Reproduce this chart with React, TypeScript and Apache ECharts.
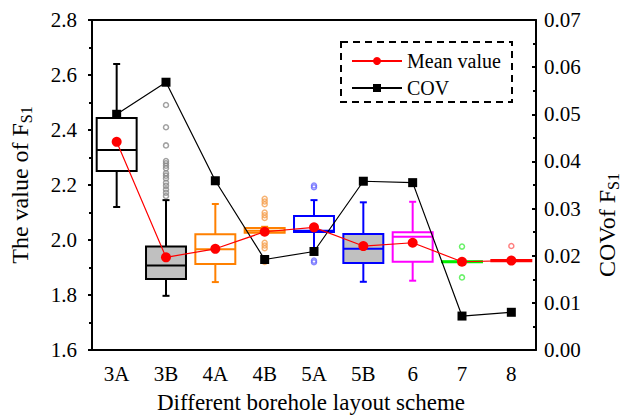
import React, { useEffect, useRef } from "react";
import * as echarts from "echarts";

const categories = ["3A", "3B", "4A", "4B", "5A", "5B", "6", "7", "8"];
// [min, Q1, median, Q3, max]
const boxStats = [
  [2.12, 2.251, 2.327, 2.444, 2.64],
  [1.797, 1.858, 1.907, 1.976, 2.145],
  [1.847, 1.913, 1.966, 2.021, 2.131],
  [2.022, 2.026, 2.034, 2.044, 2.048],
  [1.962, 2.029, 2.034, 2.087, 2.145],
  [1.848, 1.916, 1.968, 2.022, 2.137],
  [1.852, 1.921, 2.012, 2.028, 2.139],
  [1.918, 1.919, 1.921, 1.923, 1.924],
  [1.922, 1.923, 1.925, 1.927, 1.928],
];
const meanValues = [2.357, 1.937, 1.968, 2.03, 2.046, 1.978, 1.99, 1.921, 1.925];
const covValues = [0.05, 0.0568, 0.0359, 0.0192, 0.0209, 0.0358, 0.0355, 0.0072, 0.008];

const outliers3B = [2.491, 2.41, 2.344, 2.287, 2.279, 2.27, 2.261, 2.243, 2.234, 2.224, 2.208, 2.197, 2.184, 2.172, 2.16];
const outliers4B = [2.15, 2.14, 2.13, 2.1, 2.09, 2.08, 1.99, 1.98, 1.97, 1.92];
const outliers5A = [2.198, 2.192, 1.925, 1.919];
const outliers7 = [1.976, 1.864];
const outliers8 = [1.978];

const leftTicks = { min: 1.6, max: 2.8, interval: 0.2 };
const rightTicks = { min: 0, max: 0.07, interval: 0.01 };

const boxBorder = ["#000000", "#000000", "#ff8000", "#ff8000", "#0000ff", "#0000ff", "#ff00ff", "#00ee00", "#ff0000"];
const boxFill = ["#ffffff", "#c0c0c0", "#ffffff", "#ffffff", "#ffffff", "#c0c0c0", "#ffffff", "#ffffff", "#ffffff"];

const FONT = "Liberation Serif";

export default function App() {
  const ref = useRef<HTMLDivElement>(null);
  useEffect(() => {
    const chart = echarts.init(ref.current!, null, { renderer: "svg" });
    const boxData = boxStats.map((s, i) => [i, ...s]);
    const outlierSeries = [
      { idx: 1, vals: outliers3B, color: "#8a8a8a" },
      { idx: 3, vals: outliers4B, color: "#f5a050" },
      { idx: 4, vals: outliers5A, color: "#6a6aff" },
      { idx: 7, vals: outliers7, color: "#44ee44" },
      { idx: 8, vals: outliers8, color: "#ff6060" },
    ].map((o) => ({
      type: "scatter",
      xAxisIndex: 0,
      yAxisIndex: 0,
      z: 3,
      symbol: "circle",
      symbolSize: 5,
      itemStyle: { color: "transparent", borderColor: o.color, borderWidth: 1.5 },
      data: o.vals.map((v) => [o.idx, v]),
    }));

    const axisLineStyle = { color: "#000", width: 2 };
    const richSub = { s: { fontSize: 16, fontFamily: FONT, color: "#000", lineHeight: 16, verticalAlign: "bottom" } };
    chart.setOption({
      animation: false,
      grid: { left: 92, right: 87, top: 20, bottom: 65, show: false, containLabel: false, outerBoundsMode: "none" },
      legend: {
        data: ["Mean value", "COV"],
        orient: "vertical",
        left: 351,
        top: 51,
        padding: 0,
        itemWidth: 50,
        itemHeight: 10,
        itemGap: 7,
        lineStyle: { width: 2 },
        textStyle: { fontSize: 20, fontFamily: FONT, color: "#000" },
      },
      graphic: [
        {
          type: "rect",
          shape: { x: 341, y: 42, width: 171, height: 60 },
          style: { fill: "none", stroke: "#000", lineWidth: 2, lineDash: [7, 5] },
          z: 10,
        },
        {
          type: "text",
          x: 607,
          y: 225,
          rotation: Math.PI / 2,
          z: 10,
          style: {
            text: "COVof F{s|S1}",
            fontSize: 24,
            fontFamily: FONT,
            fill: "#000",
            lineHeight: 28,
            align: "center",
            verticalAlign: "middle",
            rich: richSub,
          },
        },
        {
          type: "text",
          x: 311,
          y: 414,
          z: 10,
          style: {
            text: "Different borehole layout scheme",
            fontSize: 23,
            fontFamily: FONT,
            fill: "#000",
            align: "center",
            verticalAlign: "bottom",
          },
        },
      ],
      xAxis: [
        {
          type: "category",
          data: categories,
          position: "bottom",
          boundaryGap: true,
          axisLine: { lineStyle: axisLineStyle },
          axisTick: { alignWithLabel: true, inside: false, length: 4, lineStyle: { width: 2, color: "#000" } },
          axisLabel: { fontSize: 21, fontFamily: FONT, color: "#000", margin: 13 },
          splitLine: { show: false },
        },
        {
          type: "category",
          data: categories,
          position: "top",
          boundaryGap: true,
          axisLine: { lineStyle: axisLineStyle },
          axisTick: { alignWithLabel: true, inside: true, length: 4, lineStyle: { width: 2, color: "#000" } },
          axisLabel: { show: false },
          splitLine: { show: false },
        },
      ],
      yAxis: [
        {
          type: "value",
          position: "left",
          min: leftTicks.min,
          max: leftTicks.max,
          interval: leftTicks.interval,
          axisLine: { show: true, lineStyle: axisLineStyle },
          axisTick: { show: true, inside: false, length: 4, lineStyle: { width: 2, color: "#000" } },
          minorTick: { show: true, splitNumber: 2, length: 3, lineStyle: { width: 2, color: "#000" } },
          splitLine: { show: false },
          axisLabel: { fontSize: 21, fontFamily: FONT, color: "#000", margin: 15, formatter: (v: number) => v.toFixed(1) },
          name: "The value of F{s|S1}",
          nameLocation: "middle",
          nameGap: 58,
          nameRotate: 90,
          nameTextStyle: {
            fontSize: 24,
            fontFamily: FONT,
            color: "#000",
            lineHeight: 28,
            rich: richSub,
          },
        },
        {
          type: "value",
          position: "right",
          min: rightTicks.min,
          max: rightTicks.max,
          interval: rightTicks.interval,
          axisLine: { show: true, lineStyle: axisLineStyle },
          axisTick: { show: true, inside: true, length: 4, lineStyle: { width: 2, color: "#000" } },
          minorTick: { show: true, splitNumber: 2, length: 3, lineStyle: { width: 2, color: "#000" } },
          splitLine: { show: false },
          axisLabel: { fontSize: 21, fontFamily: FONT, color: "#000", margin: 8, formatter: (v: number) => v.toFixed(2) },
        },
      ],
      series: [
        {
          type: "custom",
          xAxisIndex: 0,
          yAxisIndex: 0,
          z: 2,
          data: boxData,
          encode: { x: 0, y: [1, 2, 3, 4, 5] },
          renderItem: (params: any, api: any) => {
            const i = api.value(0);
            const lo = api.coord([i, api.value(1)]);
            const q1 = api.coord([i, api.value(2)]);
            const med = api.coord([i, api.value(3)]);
            const q3 = api.coord([i, api.value(4)]);
            const hi = api.coord([i, api.value(5)]);
            const bw = api.size([1, 0])[0] * 0.81;
            const x = lo[0];
            const cap = 3.5;
            const c = boxBorder[params.dataIndex];
            const f = boxFill[params.dataIndex];
            const ls = { stroke: c, lineWidth: 2 };
            return {
              type: "group",
              children: [
                { type: "line", shape: { x1: x, y1: q3[1], x2: x, y2: hi[1] }, style: ls },
                { type: "line", shape: { x1: x, y1: q1[1], x2: x, y2: lo[1] }, style: ls },
                { type: "line", shape: { x1: x - cap, y1: hi[1], x2: x + cap, y2: hi[1] }, style: ls },
                { type: "line", shape: { x1: x - cap, y1: lo[1], x2: x + cap, y2: lo[1] }, style: ls },
                {
                  type: "rect",
                  shape: { x: x - bw / 2, y: q3[1], width: bw, height: Math.max(q1[1] - q3[1], 0.5) },
                  style: { fill: f, stroke: c, lineWidth: 2 },
                },
                { type: "line", shape: { x1: x - bw / 2, y1: med[1], x2: x + bw / 2, y2: med[1] }, style: ls },
              ],
            };
          },
        },
        ...outlierSeries,
        {
          name: "COV",
          type: "line",
          xAxisIndex: 0,
          yAxisIndex: 1,
          z: 4,
          data: covValues,
          symbol: "rect",
          symbolSize: 9,
          itemStyle: { color: "#000" },
          lineStyle: { color: "#000", width: 1.2 },
        },
        {
          name: "Mean value",
          type: "line",
          xAxisIndex: 0,
          yAxisIndex: 0,
          z: 5,
          data: meanValues,
          symbol: "circle",
          symbolSize: 10,
          itemStyle: { color: "#ff0000" },
          lineStyle: { color: "#ff0000", width: 1.2 },
        },
      ],
    });
    return () => chart.dispose();
  }, []);
  return <div ref={ref} style={{ position: "absolute", left: 0, top: 0, width: 623, height: 415 }} />;
}
